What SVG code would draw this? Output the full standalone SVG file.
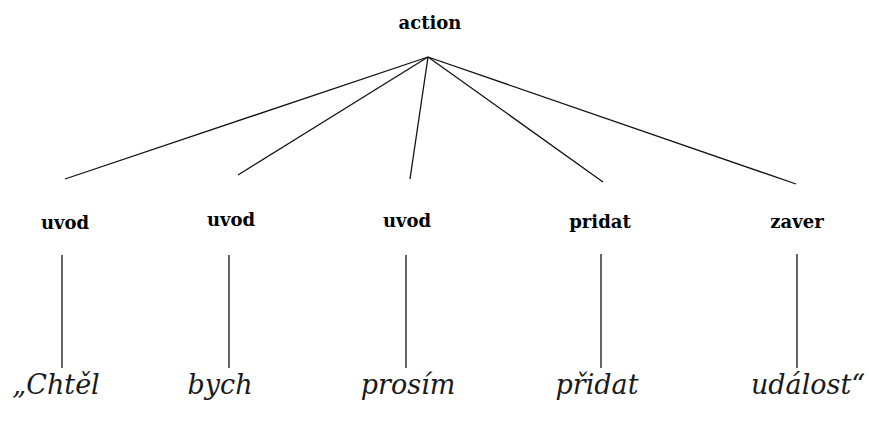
<svg xmlns="http://www.w3.org/2000/svg" width="869" height="425" viewBox="0 0 869 425">
<style>
.lbl{font-family:"DejaVu Serif","Liberation Serif",serif;font-weight:bold;font-size:18px;fill:#000;text-anchor:middle}
.word{font-family:"DejaVu Serif","Liberation Serif",serif;font-style:italic;font-size:27px;fill:#1a1a1a;text-anchor:middle}
.edge{stroke:#111;stroke-width:1.3;fill:none}
</style>
<rect width="869" height="425" fill="#fff"/>
<g id="connectors">
<line class="edge" x1="428" y1="57" x2="65" y2="179"/>
<line class="edge" x1="428" y1="57" x2="238" y2="175"/>
<line class="edge" x1="428" y1="57" x2="410" y2="179"/>
<line class="edge" x1="428" y1="57" x2="603" y2="182"/>
<line class="edge" x1="428" y1="57" x2="796" y2="184"/>
<line class="edge" x1="62" y1="255" x2="62" y2="368"/>
<line class="edge" x1="229" y1="255" x2="229" y2="368"/>
<line class="edge" x1="406" y1="255" x2="406" y2="368"/>
<line class="edge" x1="601" y1="254" x2="601" y2="368"/>
<line class="edge" x1="797" y1="254" x2="797" y2="368"/>
</g>
<g id="n-action"><text class="lbl" x="430" y="29">action</text></g>
<g id="n-uvod1"><text class="lbl" x="65" y="229">uvod</text></g>
<g id="n-uvod2"><text class="lbl" x="231" y="226">uvod</text></g>
<g id="n-uvod3"><text class="lbl" x="407" y="227">uvod</text></g>
<g id="n-pridat"><text class="lbl" x="600" y="228">pridat</text></g>
<g id="n-zaver"><text class="lbl" x="797" y="228">zaver</text></g>
<g id="w-chtel"><text class="word" x="56" y="394">„Chtěl</text></g>
<g id="w-bych"><text class="word" x="220" y="394">bych</text></g>
<g id="w-prosim"><text class="word" x="408" y="394">prosím</text></g>
<g id="w-pridat"><text class="word" x="597" y="394">přidat</text></g>
<g id="w-udalost"><text class="word" x="808" y="394">událost“</text></g>
</svg>
